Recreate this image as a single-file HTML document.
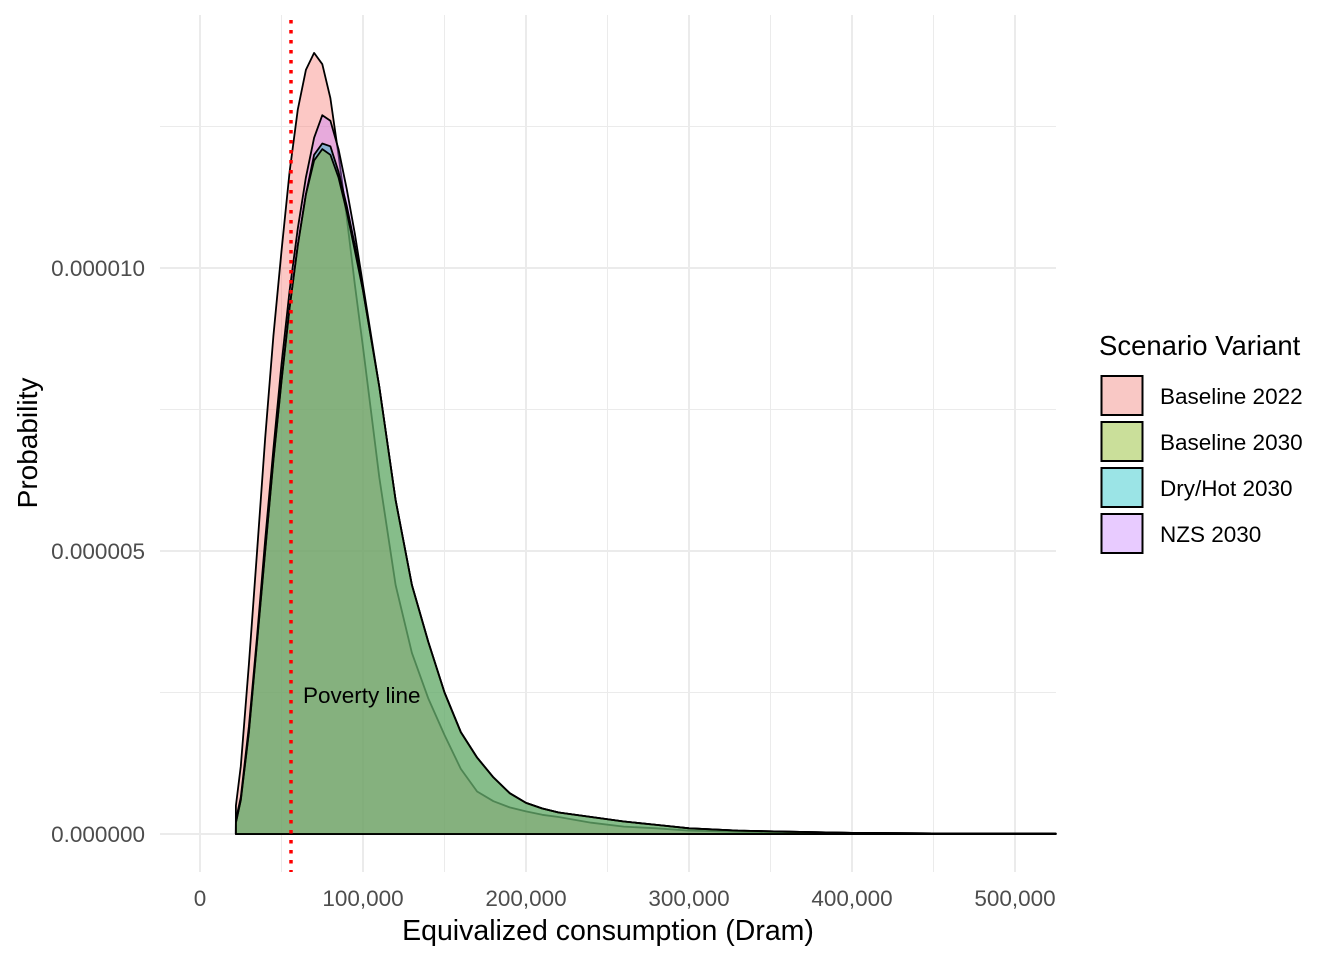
<!DOCTYPE html>
<html><head><meta charset="utf-8"><style>
html,body{margin:0;padding:0;background:#fff;}
svg{display:block;font-family:"Liberation Sans",Arial,sans-serif;}
</style></head><body>
<svg id="chart" width="1344" height="960" viewBox="0 0 1344 960">
<g id="grid"></g>
<g id="areas"></g>
<line x1="291" y1="20" x2="291" y2="872" stroke="#ff0000" stroke-width="3.5" stroke-dasharray="3.5 6.5"/>
<text x="303" y="703" font-size="22.5" fill="#000">Poverty line</text>
<g id="axes"></g>
<text x="608" y="940" font-size="28.5" text-anchor="middle" fill="#000">Equivalized consumption (Dram)</text>
<text transform="translate(37,443) rotate(-90)" font-size="28" text-anchor="middle" fill="#000">Probability</text>
<g>
<text x="1099" y="355" font-size="27.5" fill="#000">Scenario Variant</text>
<g id="legend-items"></g>
</g>
</svg>
<script>
const xs = [22,25,30,35,40,45,50,55,60,65,70,75,80,85,90,95,100,110,120,130,140,150,160,170,180,190,200,210,220,240,260,280,300,330,360,400,450,500,525];
const seriesNames = ["Baseline 2022","NZS 2030","Dry/Hot 2030","Baseline 2030"];
const b2022 = [0.5,1.2,3.0,5.0,7.0,8.8,10.3,11.7,12.8,13.5,13.8,13.6,13.0,12.0,10.9,9.7,8.6,6.3,4.4,3.2,2.4,1.75,1.15,0.75,0.58,0.47,0.4,0.34,0.3,0.2,0.13,0.1,0.06,0.04,0.03,0.02,0.01,0.01,0.005];
const nzs2030 = [0.25,0.65,1.9,3.5,5.2,6.8,8.3,9.6,10.7,11.6,12.3,12.7,12.6,12.1,11.4,10.6,9.7,7.9,5.9,4.4,3.4,2.5,1.8,1.35,1.0,0.72,0.55,0.45,0.38,0.3,0.22,0.16,0.1,0.06,0.04,0.02,0.01,0.01,0.005];
const dry2030 = [0.2,0.6,1.8,3.4,5.0,6.6,8.0,9.3,10.4,11.3,12.0,12.2,12.15,11.7,11.1,10.4,9.6,7.9,5.9,4.4,3.4,2.5,1.8,1.35,1.0,0.72,0.55,0.45,0.38,0.3,0.22,0.16,0.1,0.06,0.04,0.02,0.01,0.01,0.005];
const b2030 = [0.2,0.6,1.8,3.4,5.0,6.6,8.0,9.3,10.4,11.3,11.9,12.1,12.0,11.6,11.0,10.3,9.6,7.9,5.9,4.4,3.4,2.5,1.8,1.35,1.0,0.72,0.55,0.45,0.38,0.3,0.22,0.16,0.1,0.06,0.04,0.02,0.01,0.01,0.005];
const xTicks = [0,100,200,300,400,500];
const xTickLabels = ["0","100,000","200,000","300,000","400,000","500,000"];
const yTicks = [0,5,10];
const yTickLabels = ["0.000000","0.000005","0.000010"];

const NS = "http://www.w3.org/2000/svg";
const X = k => 200 + 1.63 * k;
const Y = d => 834 - 56.6 * d;
function mk(tag, attrs, parent){const e=document.createElementNS(NS,tag);for(const a in attrs)e.setAttribute(a,attrs[a]);parent.appendChild(e);return e;}

const grid = document.getElementById('grid');
for (let k=-50;k<=550;k+=50){
  const x=X(k); if(x<160||x>1056) continue;
  const l=mk('line',{x1:x,x2:x,y1:15,y2:872,stroke:'#ebebeb','stroke-width':(k%100===0)?2:1},grid);
  
  
}
for (let d=0; d<=12.5; d+=2.5){
  const y=Y(d);
  const l=mk('line',{x1:160,x2:1056,y1:y,y2:y,stroke:'#ebebeb','stroke-width':(d%5===0)?2:1},grid);
  
  
}

const areas = document.getElementById('areas');
const data = [b2022,nzs2030,dry2030,b2030];
const fills = ["rgba(248,118,109,0.4)","rgba(199,124,255,0.4)","rgba(0,191,196,0.4)","rgba(124,174,0,0.4)"];
data.forEach((vals,i)=>{
  let d = `M${X(xs[0])},${Y(0)}`;
  xs.forEach((k,j)=>{ d += ` L${X(k).toFixed(1)},${Y(vals[j]).toFixed(1)}`; });
  d += ` L${X(xs[xs.length-1])},${Y(0)} Z`;
  const p = mk('path',{d:d,fill:fills[i],stroke:'#000','stroke-width':1.8,'stroke-linejoin':'round'},areas);
  
  
});

const axes = document.getElementById('axes');
xTicks.forEach((k,i)=>{
  const t = mk('text',{x:X(k),y:906,'font-size':22.5,'text-anchor':'middle',fill:'#4d4d4d'},axes);
  t.textContent = xTickLabels[i];
  
  
});
yTicks.forEach((v,i)=>{
  const t = mk('text',{x:145,y:Y(v)+8,'font-size':22.5,'text-anchor':'end',fill:'#4d4d4d'},axes);
  t.textContent = yTickLabels[i];
  
  
});

const legendNames = ["Baseline 2022","Baseline 2030","Dry/Hot 2030","NZS 2030"];
const legendFills = ["#f9c8c5","#cadf9a","#9be4e6","#e8cbff"];
const li = document.getElementById('legend-items');
legendNames.forEach((n,i)=>{
  const y = 376 + i*46;
  const r = mk('rect',{x:1101.5,y:y,width:41,height:39,fill:legendFills[i],stroke:'#000','stroke-width':2},li);
  
  
  const t = mk('text',{x:1160,y:y+28,'font-size':22.5,fill:'#000'},li);
  t.textContent = n;
  
  
});
</script>
</body></html>
